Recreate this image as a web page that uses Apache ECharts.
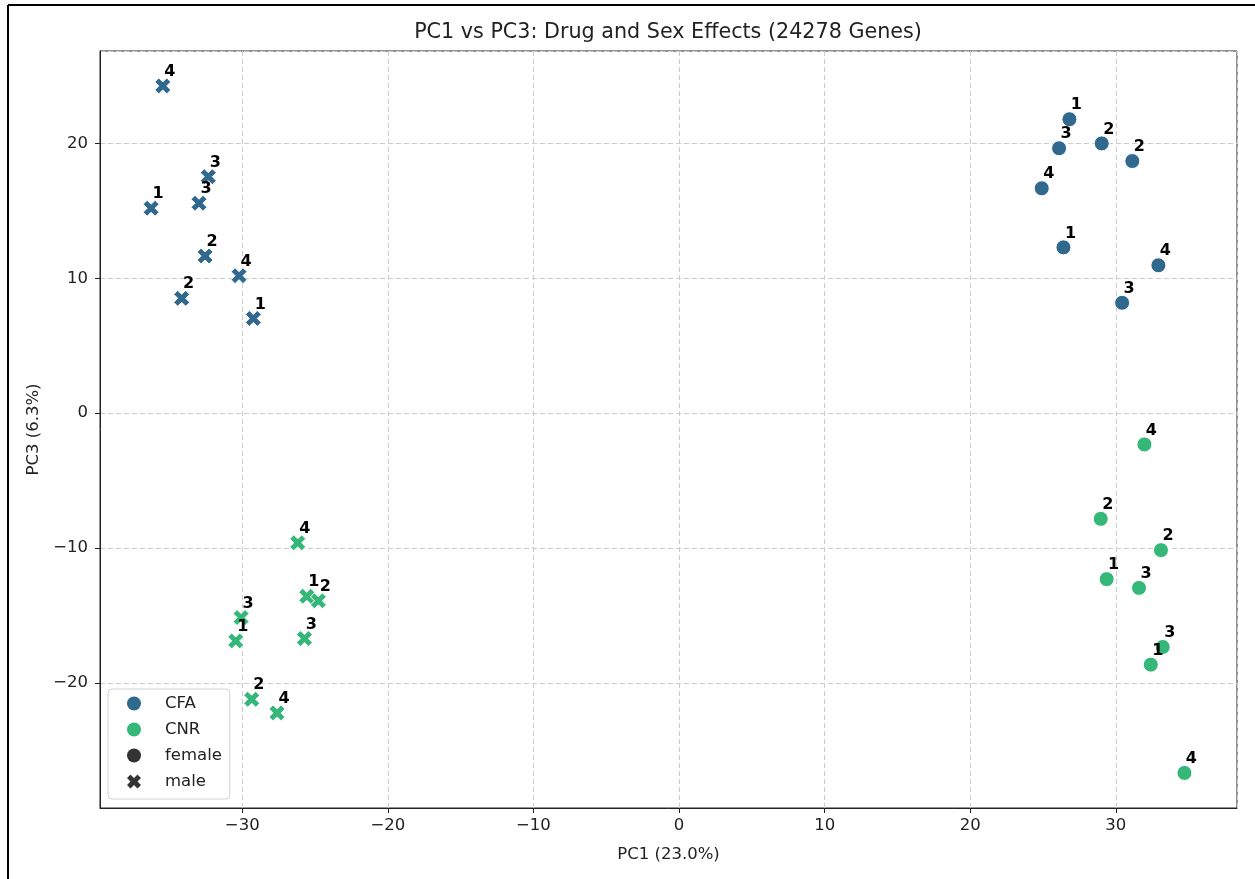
<!DOCTYPE html>
<html>
<head>
<meta charset="utf-8">
<title>PC1 vs PC3</title>
<script src="https://cdn.jsdelivr.net/npm/echarts@6.0.0/dist/echarts.min.js"></script>
<style>
  html, body { margin: 0; padding: 0; background: #fff; }
  #chart { width: 1255px; height: 879px; }
</style>
</head>
<body>
<div id="chart"></div>
<script>
// [PC1, PC3, replicate]
var cfaFemale = [
  [26.81, 21.79, 1], [26.10, 19.64, 3], [29.03, 20.00, 2], [31.13, 18.69, 2],
  [24.91, 16.67, 4], [26.40, 12.29, 1], [32.92, 10.96, 4], [30.43, 8.18, 3]
];
var cfaMale = [
  [-35.46, 24.26, 4], [-36.26, 15.19, 1], [-32.33, 17.53, 3], [-32.97, 15.56, 3],
  [-32.55, 11.65, 2], [-30.22, 10.19, 4], [-34.16, 8.51, 2], [-29.24, 7.02, 1]
];
var cnrFemale = [
  [31.96, -2.32, 4], [28.96, -7.84, 2], [33.10, -10.16, 2], [29.37, -12.31, 1],
  [31.59, -12.96, 3], [33.22, -17.34, 3], [32.40, -18.65, 1], [34.71, -26.68, 4]
];
var cnrMale = [
  [-26.19, -9.62, 4], [-25.57, -13.58, 1], [-24.77, -13.92, 2], [-30.08, -15.16, 3],
  [-30.45, -16.89, 1], [-25.73, -16.72, 3], [-29.35, -21.22, 2], [-27.61, -22.23, 4]
];
var legendNames = ["CFA", "CNR", "female", "male"];

var font = "DejaVu Sans";
var blue = "#31688e";
var green = "#35b779";
var dark = "#333333";
// matplotlib "X" marker (filled)
var xMarker = "path://M7.5,0 L10,2.5 L7.5,5 L10,7.5 L7.5,10 L5,7.5 L2.5,10 L0,7.5 L2.5,5 L0,2.5 L2.5,0 L5,2.5 Z";

function minus(v) {
  return String(v).replace("-", "\u2212");
}

function pointSeries(data, color, symbol, size) {
  return {
    type: "scatter",
    data: data,
    symbol: symbol,
    symbolSize: size,
    itemStyle: { color: color, borderColor: "#fff", borderWidth: 1, opacity: 1 },
    label: {
      show: true,
      position: "inside",
      offset: [7, -14],
      formatter: function (p) { return p.value[2]; },
      fontFamily: font,
      fontWeight: "bold",
      fontSize: 16,
      color: "#000"
    },
    emphasis: { disabled: true },
    z: 3
  };
}

function legendSeries(name, color) {
  return { type: "scatter", name: name, data: [], itemStyle: { color: color, opacity: 1 } };
}

var chart = echarts.init(document.getElementById("chart"));

chart.setOption({
  animation: false,
  backgroundColor: "#fff",
  textStyle: { fontFamily: font },
  title: {
    text: "PC1 vs PC3: Drug and Sex Effects (24278 Genes)",
    left: 668,
    top: 22,
    textAlign: "center",
    padding: 0,
    textStyle: { fontFamily: font, fontSize: 20.7, fontWeight: "normal", color: "#222" }
  },
  grid: {
    left: 100, right: 18, top: 51, bottom: 71,
    show: true, borderColor: "#222", borderWidth: 1, backgroundColor: "transparent"
  },
  legend: {
    orient: "vertical",
    left: 108,
    top: 689,
    padding: [5, 8, 8, 19],
    itemWidth: 14,
    itemHeight: 14,
    itemGap: 7,
    backgroundColor: "#fff",
    borderColor: "#d0d0d0",
    borderWidth: 1,
    borderRadius: 4,
    inactiveColor: dark,
    textStyle: { fontFamily: font, fontSize: 16.5, color: "#222", padding: [0, 0, 0, 19], lineHeight: 19 },
    data: [
      { name: "CFA", icon: "circle", itemStyle: { color: blue, opacity: 1 } },
      { name: "CNR", icon: "circle", itemStyle: { color: green, opacity: 1 } },
      { name: "female", icon: "circle", itemStyle: { color: dark, opacity: 1 } },
      { name: "male", icon: xMarker, itemStyle: { color: dark, opacity: 1 } }
    ]
  },
  xAxis: {
    type: "value",
    min: -39.77,
    max: 38.32,
    splitNumber: 8,
    name: "PC1 (23.0%)",
    nameLocation: "middle",
    nameGap: 38,
    nameTextStyle: { fontFamily: font, fontSize: 16.5, color: "#222" },
    axisLine: { show: true, onZero: false, lineStyle: { color: "#222" } },
    axisTick: { show: true, length: 5, lineStyle: { color: "#222" } },
    axisLabel: {
      margin: 9, fontFamily: font, fontSize: 16.5, color: "#222",
      showMinLabel: false, showMaxLabel: false, formatter: minus
    },
    splitLine: { show: true, lineStyle: { color: "#cccccc", type: [5, 3] } }
  },
  yAxis: {
    type: "value",
    min: -29.28,
    max: 26.85,
    splitNumber: 6,
    name: "PC3 (6.3%)",
    nameLocation: "middle",
    nameGap: 55,
    nameTextStyle: { fontFamily: font, fontSize: 16.5, color: "#222" },
    axisLine: { show: true, onZero: false, lineStyle: { color: "#222" } },
    axisTick: { show: true, length: 5, lineStyle: { color: "#222" } },
    axisLabel: {
      margin: 12, fontFamily: font, fontSize: 16.5, color: "#222",
      showMinLabel: false, showMaxLabel: false, formatter: minus
    },
    splitLine: { show: true, lineStyle: { color: "#cccccc", type: [5, 3] } }
  },
  graphic: [
    { type: "line", shape: { x1: 8, y1: 5, x2: 1255, y2: 5 }, style: { stroke: "#000", lineWidth: 2 }, z: 10 },
    { type: "line", shape: { x1: 8, y1: 5, x2: 8, y2: 879 }, style: { stroke: "#000", lineWidth: 2 }, z: 10 }
  ],
  series: [
    pointSeries(cfaFemale, blue, "circle", 15),
    pointSeries(cfaMale, blue, xMarker, 16),
    pointSeries(cnrFemale, green, "circle", 15),
    pointSeries(cnrMale, green, xMarker, 16),
    legendSeries(legendNames[0], blue),
    legendSeries(legendNames[1], green),
    legendSeries(legendNames[2], dark),
    legendSeries(legendNames[3], dark)
  ]
});
</script>
</body>
</html>
